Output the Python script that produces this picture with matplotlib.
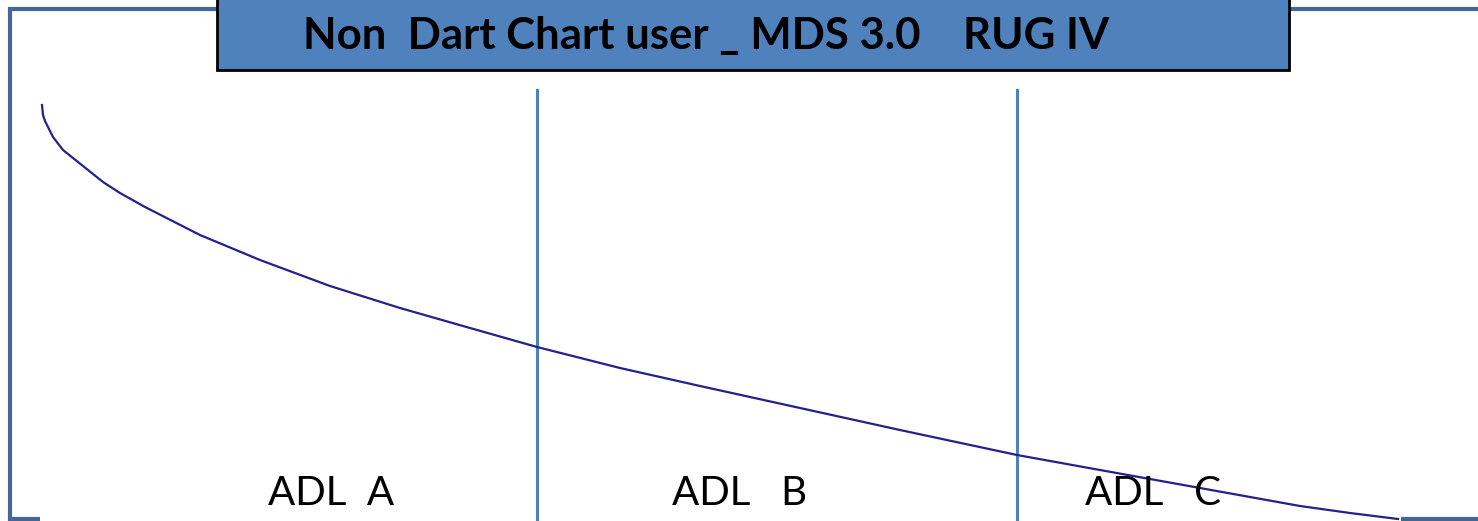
import matplotlib
matplotlib.use("Agg")
import matplotlib.pyplot as plt
from matplotlib.patches import Rectangle

# curve (pixel coords, y down)
curve_x = [42, 43, 45, 48, 53, 63, 78, 103, 120, 145, 200, 260, 330, 400, 470, 537,
           620, 700, 800, 900, 1017, 1100, 1200, 1250, 1300, 1350, 1398]
curve_y = [105, 115, 121, 127, 137, 150, 162, 182, 193, 207, 235, 260, 286, 308, 328, 347,
           368, 386, 408, 430, 455, 470, 488, 497, 506, 513, 519]

title = "Non  Dart Chart user _ MDS 3.0    RUG IV"
labels = ["ADL  A", "ADL   B", "ADL   C"]
label_x = [268, 672, 1085]
dividers = [537, 1017]

fig = plt.figure(figsize=(14.78, 5.21), dpi=100)
ax = fig.add_axes([0, 0, 1, 1])
ax.set_xlim(0, 1478)
ax.set_ylim(521, 0)
ax.axis("off")

frame_col = "#44679A"
# outer frame (runs off the right side)
ax.plot([40, 9.5, 9.5, 1478], [518.5, 518.5, 8.5, 8.5], color=frame_col, lw=3,
        solid_joinstyle="miter", solid_capstyle="butt")
ax.plot([1401, 1478], [518.5, 518.5], color=frame_col, lw=3, solid_capstyle="butt")

# dividers
for x in dividers:
    ax.plot([x, x], [90, 521], color="#4F81BD", lw=2.2)

# curve
ax.plot(curve_x, curve_y, color="#22228E", lw=1.6)

# title box
ax.add_patch(Rectangle((217, -5), 1072, 75, facecolor="#4F81BD",
                       edgecolor="black", lw=2, zorder=5))
ax.text(303, 36, title, ha="left", va="center", fontsize=31.5,
        fontweight="bold", family="Lato", zorder=6)

for lab, x in zip(labels, label_x):
    ax.text(x, 505, lab, ha="left", va="baseline", fontsize=29,
            family="Lato", zorder=4)

fig.savefig("out.png", dpi=100)
